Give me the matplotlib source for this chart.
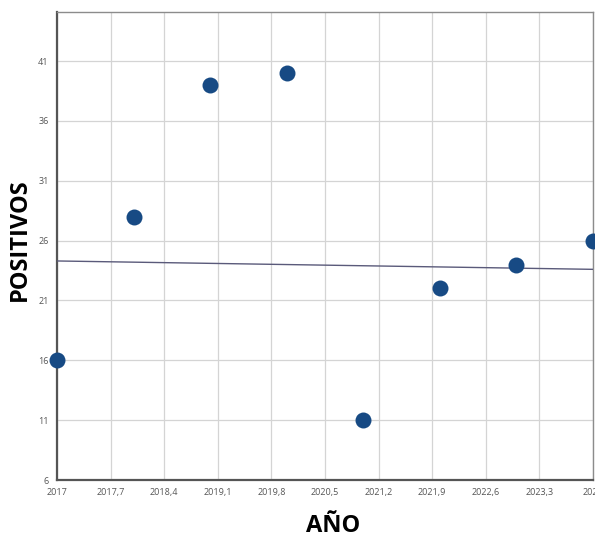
import matplotlib
matplotlib.use("Agg")
import matplotlib.pyplot as plt
import numpy as np

plt.rcParams['font.family'] = ['Open Sans', 'DejaVu Sans']

years = [2017, 2018, 2019, 2020, 2021, 2022, 2023, 2024]
positivos = [16, 28, 39, 40, 11, 22, 24, 26]

trend_x = [2017, 2024]
trend_y = [24.3, 23.6]

x_ticks = [2017, 2017.7, 2018.4, 2019.1, 2019.8, 2020.5, 2021.2, 2021.9, 2022.6, 2023.3, 2024]
x_tick_labels = ["2017", "2017,7", "2018,4", "2019,1", "2019,8", "2020,5", "2021,2",
                 "2021,9", "2022,6", "2023,3", "2024"]
y_ticks = [6, 11, 16, 21, 26, 31, 36, 41]
y_tick_labels = ["6", "11", "16", "21", "26", "31", "36", "41"]

fig = plt.figure(figsize=(5.95, 5.36), dpi=100)
ax = fig.add_axes([57/595, 1 - 480/536, (593-57)/595, (480-12)/536])

ax.set_xlim(2017, 2024)
ax.set_ylim(6, 45.1)

ax.set_xticks(x_ticks)
ax.set_xticklabels(x_tick_labels)
ax.set_yticks(y_ticks)
ax.set_yticklabels(y_tick_labels)
ax.tick_params(axis='both', length=0, labelsize=6.5, labelcolor='#555555', pad=6)

ax.grid(True, color='#d4d4d4', linewidth=0.9)
ax.set_axisbelow(True)

for s in ['left', 'bottom']:
    ax.spines[s].set_color('#555555')
    ax.spines[s].set_linewidth(1.6)
for s in ['top', 'right']:
    ax.spines[s].set_color('#8c8c8c')
    ax.spines[s].set_linewidth(1.0)

ax.plot(trend_x, trend_y, color='#5a5a7a', linewidth=1.0, zorder=3)
ax.plot(years, positivos, linestyle='none', marker='o', markersize=11.5,
        color='#174a84', markeredgewidth=0, clip_on=False, zorder=5)

fig.text(20/595, 1 - 240/536, "POSITIVOS", rotation=90, fontsize=17, fontweight='bold',
         ha='center', va='center', color='black')
fig.text(333/595, 1 - 526/536, "AÑO", fontsize=17, fontweight='bold',
         ha='center', va='center', color='black')

fig.savefig("out.png", dpi=100)
